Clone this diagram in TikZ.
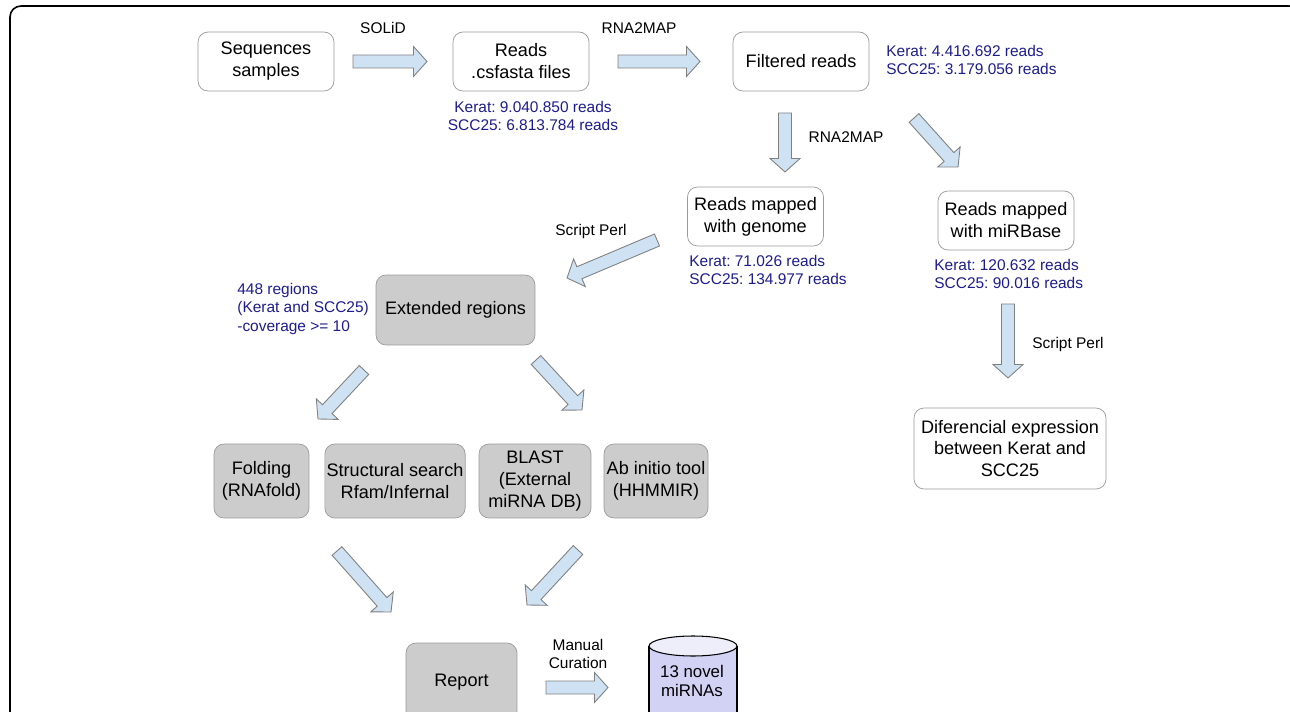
\documentclass[tikz,border=0pt]{standalone}
\usepackage{fontspec}
\setmainfont{Liberation Sans}
\usetikzlibrary{calc,positioning}
\frenchspacing

\definecolor{boxgray}{HTML}{CCCCCC}
\definecolor{edgegray}{HTML}{9A9A9A}
\definecolor{arrowblue}{HTML}{CFE2F3}
\definecolor{infoblue}{HTML}{1C1C8E}
\definecolor{dbbody}{HTML}{D2D2F5}
\definecolor{dbtop}{HTML}{EEEEFB}

% block arrow from #1 to #2
\newcommand{\fatarrow}[2]{%
  \coordinate (fah) at ($(#2)!0.27cm!(#1)$);
  \draw[fatarrow] ($(#1)!0.13cm!90:(#2)$) -- ($(fah)!0.13cm!90:(#2)$) -- ($(fah)!0.3cm!90:(#2)$) -- (#2)
    -- ($(fah)!0.3cm!-90:(#2)$) -- ($(fah)!0.13cm!-90:(#2)$) -- ($(#1)!0.13cm!-90:(#2)$) -- cycle;}

\begin{document}
\begin{tikzpicture}[x=0.02cm, y=-0.02cm,
  stepbox/.style={draw=edgegray, rounded corners=0.2cm, align=center, inner sep=1pt, font=\fontsize{10.3}{12.5}\selectfont},
  plain/.style={stepbox, fill=white, minimum width=2.72cm, minimum height=1.18cm},
  shaded/.style={stepbox, fill=boxgray, minimum height=1.48cm},
  info/.style={text=infoblue, align=left, inner sep=0pt, font=\fontsize{8.8}{10.6}\selectfont},
  lbl/.style={align=center, inner sep=0pt, font=\fontsize{8.8}{10.6}\selectfont},
  fatarrow/.style={draw=gray, fill=arrowblue, line width=0.5pt}]
\useasboundingbox (0,0) rectangle (1290,712);

% Outer frame
\draw[line width=0.9pt, rounded corners=0.22cm] (10,6) rectangle (1300,740);

% Nodes placement
\node[plain] (seq) at (266,61.5) {Sequences\\samples};
\node[plain] (reads) at (521,61.5) {Reads\\.csfasta files};
\node[plain] (filt) at (801,61.5) {Filtered reads};
\node[plain] (genome) at (755.5,216.5) {Reads mapped\\with genome};
\node[plain] (mirbase) at (1006,220.5) {Reads mapped\\with miRBase};
\node[shaded, minimum width=3.18cm, minimum height=1.4cm] (ext) at (455.5,310) {Extended regions};
\node[shaded, minimum width=1.9cm] (fold) at (261.5,481) {Folding\\(RNAfold)};
\node[shaded, minimum width=2.8cm] (struct) at (395,481) {Structural search\\Rfam/Infernal};
\node[shaded, minimum width=2.24cm] (blast) at (535,481) {BLAST\\(External\\miRNA DB)};
\node[shaded, minimum width=2.08cm] (abinit) at (656,481) {Ab initio tool\\(HHMMIR)};
\node[stepbox, fill=white, minimum width=3.84cm, minimum height=1.62cm] (diff) at (1010,448.5) {Diferencial expression\\between Kerat and\\SCC25};
\node[shaded, minimum width=2.22cm, minimum height=1.56cm] (report) at (461.5,682) {Report};

% Database cylinder
\fill[dbbody] (649,646) rectangle (737,740);
\draw[line width=0.6pt] (649,646) -- (649,740) (737,646) -- (737,740);
\draw[line width=0.6pt, fill=dbtop] (693,646) ellipse [x radius=0.88cm, y radius=0.2cm];
\node[lbl, font=\fontsize{9.6}{10.6}\selectfont] (db) at (692,681) {13 novel\\miRNAs};

% Read counts
\node[info, align=center] (readsinfo) at (533,116) {Kerat: 9.040.850 reads\\SCC25: 6.813.784 reads};
\node[info, anchor=west] (filtinfo) at (886,60) {Kerat: 4.416.692 reads\\SCC25: 3.179.056 reads};
\node[info, anchor=west] (genomeinfo) at (689,270) {Kerat: 71.026 reads\\SCC25: 134.977 reads};
\node[info, anchor=west] (mirbaseinfo) at (934,274) {Kerat: 120.632 reads\\SCC25: 90.016 reads};
\node[info, anchor=west] (extinfo) at (237,309) {448 regions\\(Kerat and SCC25)\\-coverage >= 10};

% Arrow labels
\node[lbl] (solid) at (383,28) {SOLiD};
\node[lbl] (maptop) at (639,28) {RNA2MAP};
\node[lbl] (mapdown) at (846,137) {RNA2MAP};
\node[lbl] (perlleft) at (591,232) {Script Perl};
\node[lbl] (perlright) at (1068,345) {Script Perl};
\node[lbl] (curation) at (578,654) {Manual\\Curation};

% Arrow ends
\coordinate (a1) at (353,61.5);  \coordinate (b1) at (427,61.5);
\coordinate (a2) at (618,61.5);  \coordinate (b2) at (700,61.5);
\coordinate (a3) at (785,113);   \coordinate (b3) at (785,172);
\coordinate (a4) at (914,118);   \coordinate (b4) at (958,167);
\coordinate (a5) at (657,240);   \coordinate (b5) at (567,278);
\coordinate (a6) at (364,370);   \coordinate (b6) at (318,419);
\coordinate (a7) at (536,360);   \coordinate (b7) at (582,410);
\coordinate (a8) at (337,551);   \coordinate (b8) at (391,612);
\coordinate (a9) at (578,550);   \coordinate (b9) at (527,605);
\coordinate (a10) at (546,687.5); \coordinate (b10) at (608,687.5);
\coordinate (a11) at (1008,304); \coordinate (b11) at (1008,378);

% Draw edges
\foreach \i in {1,...,11} {\fatarrow{a\i}{b\i}}
\end{tikzpicture}
\end{document}
